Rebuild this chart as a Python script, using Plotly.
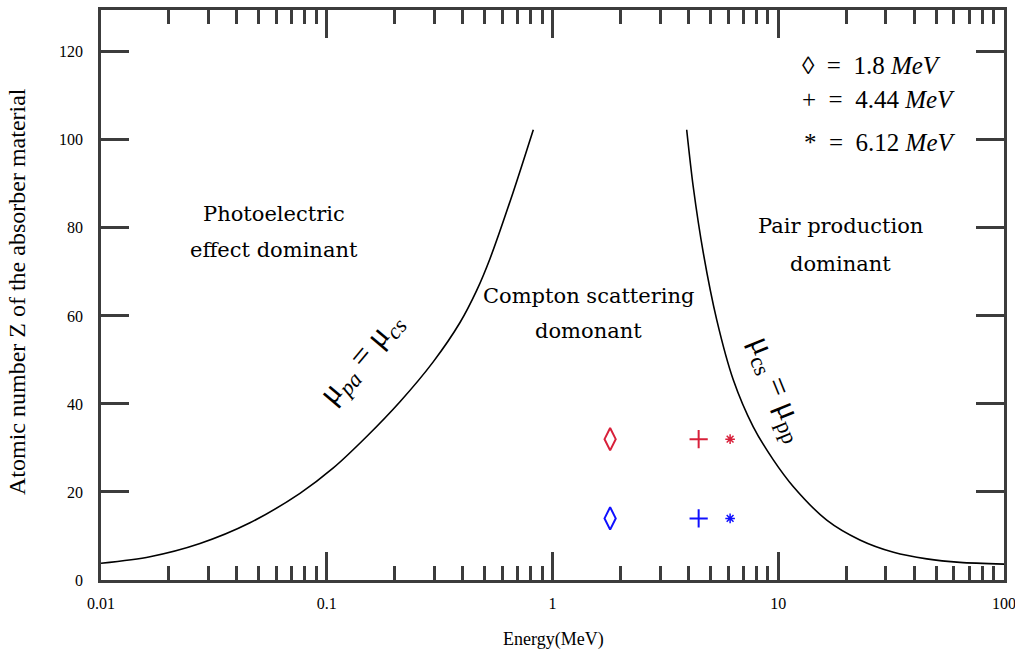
import plotly.graph_objects as go

# ---- data ----
pa_cs_energy = [0.01, 0.01648, 0.02745, 0.0457, 0.0761, 0.1066, 0.1503, 0.2111, 0.2956, 0.3893, 0.4616, 0.5285, 0.6683, 0.8222]
pa_cs_z = [3.8, 5.3, 8.3, 13.0, 19.7, 25.4, 32.6, 40.5, 49.5, 58.5, 65.8, 73.0, 88.0, 102.3]

cs_pp_energy = [3.93, 4.20, 4.66, 5.34, 6.32, 7.75, 9.51, 11.67, 16.4, 23.0, 32.4, 45.5, 63.8, 100]
cs_pp_z = [102.3, 89.4, 74.2, 59.1, 45.5, 34.8, 27.3, 21.2, 13.6, 9.1, 6.3, 4.8, 4.0, 3.6]

source_energy = [1.8, 4.44, 6.12]
source_symbols = ["diamond-tall-open", "cross-thin-open", "asterisk-open"]
material_z = [32, 14]
material_colors = ["#d8203a", "#1010ff"]

x_tickvals = [0.01, 0.1, 1, 10, 100]
x_ticktext = ["0.01", "0.1", "1", "10", "100"]
x_minor = [m * d for d in [0.01, 0.1, 1, 10] for m in range(2, 10)]
y_tickvals = [0, 20, 40, 60, 80, 100, 120]

W, H = 1015, 655
L, R, T, B = 101, 1004, 10, 580


def px(x):
    return (x - L) / (R - L)


def py(y):
    return (B - y) / (B - T)


SERIF = "Liberation Serif"
WIDE = "DejaVu Serif"
AX = "#3c3c3c"

fig = go.Figure()
fig.add_trace(go.Scatter(x=pa_cs_energy, y=pa_cs_z, mode="lines",
                         line=dict(color="black", width=1.6, shape="spline", smoothing=0.8),
                         showlegend=False, hoverinfo="skip"))
fig.add_trace(go.Scatter(x=cs_pp_energy, y=cs_pp_z, mode="lines",
                         line=dict(color="black", width=1.6, shape="spline", smoothing=0.8),
                         showlegend=False, hoverinfo="skip"))

sizes = {"diamond-tall-open": 16, "cross-thin-open": 13, "asterisk-open": 8}
widths = {"diamond-tall-open": 2, "cross-thin-open": 2, "asterisk-open": 1.5}
for z, c in zip(material_z, material_colors):
    for e, s in zip(source_energy, source_symbols):
        fig.add_trace(go.Scatter(x=[e], y=[z], mode="markers", showlegend=False, hoverinfo="skip",
                                 marker=dict(symbol=s, size=sizes[s], color=c,
                                             line=dict(color=c, width=widths[s]))))

ann = []


def text(x, y, t, size=21, angle=0, anchor="center", family=WIDE):
    ann.append(dict(xref="paper", yref="paper", x=px(x), y=py(y), text=t, showarrow=False,
                    font=dict(family=family, size=size, color="black"), textangle=angle,
                    xanchor=anchor, yanchor="middle"))


text(274, 214, "Photoelectric")
text(274, 250, "effect dominant")
text(588, 296, "Compton scattering")
text(588, 331, "domonant")
text(840, 226, "Pair production")
text(840, 264, "dominant")
text(361, 358, "μ<sub><i>pa</i></sub> = μ<sub><i>cs</i></sub>", size=32, angle=-50, family=SERIF)
text(778, 388, "μ<sub>cs</sub> = μ<sub>pp</sub>", size=32, angle=68, family=SERIF)
text(800, 66, "◊  =  1.8 <i>MeV</i>", size=25, anchor="left", family=SERIF)
text(800, 99, "+  =  4.44 <i>MeV</i>", size=25, anchor="left", family=SERIF)
text(802, 142, "*  =  6.12 <i>MeV</i>", size=25, anchor="left", family=SERIF)
text(553, 640, "Energy(MeV)", size=18, family=SERIF)
text(17, 292, "Atomic number Z of the absorber material", size=24, angle=-90, family=SERIF)

fig.update_layout(
    width=W, height=H,
    margin=dict(l=L, r=W - R, t=T, b=H - B, autoexpand=False),
    plot_bgcolor="white", paper_bgcolor="white",
    annotations=ann,
    xaxis=dict(type="log", range=[-2, 2], tickvals=x_tickvals, ticktext=x_ticktext,
               ticks="inside", ticklen=28, tickwidth=2.5, tickcolor=AX,
               showline=True, linecolor=AX, linewidth=2.5, mirror="allticks",
               showgrid=False, zeroline=False, automargin=False, ticklabeloverflow="allow",
               tickfont=dict(family=SERIF, size=16, color="black"), ticklabelstandoff=7,
               minor=dict(tickmode="array", tickvals=x_minor, ticks="inside", ticklen=14,
                          tickwidth=2.5, tickcolor=AX, showgrid=False)),
    yaxis=dict(range=[0, 129.5], tickvals=y_tickvals,
               ticks="inside", ticklen=28, tickwidth=2.5, tickcolor=AX,
               showline=True, linecolor=AX, linewidth=2.5, mirror="allticks",
               showgrid=False, zeroline=False, automargin=False,
               tickfont=dict(family=SERIF, size=16, color="black"), ticklabelstandoff=12),
)

fig.write_html("out.html")
